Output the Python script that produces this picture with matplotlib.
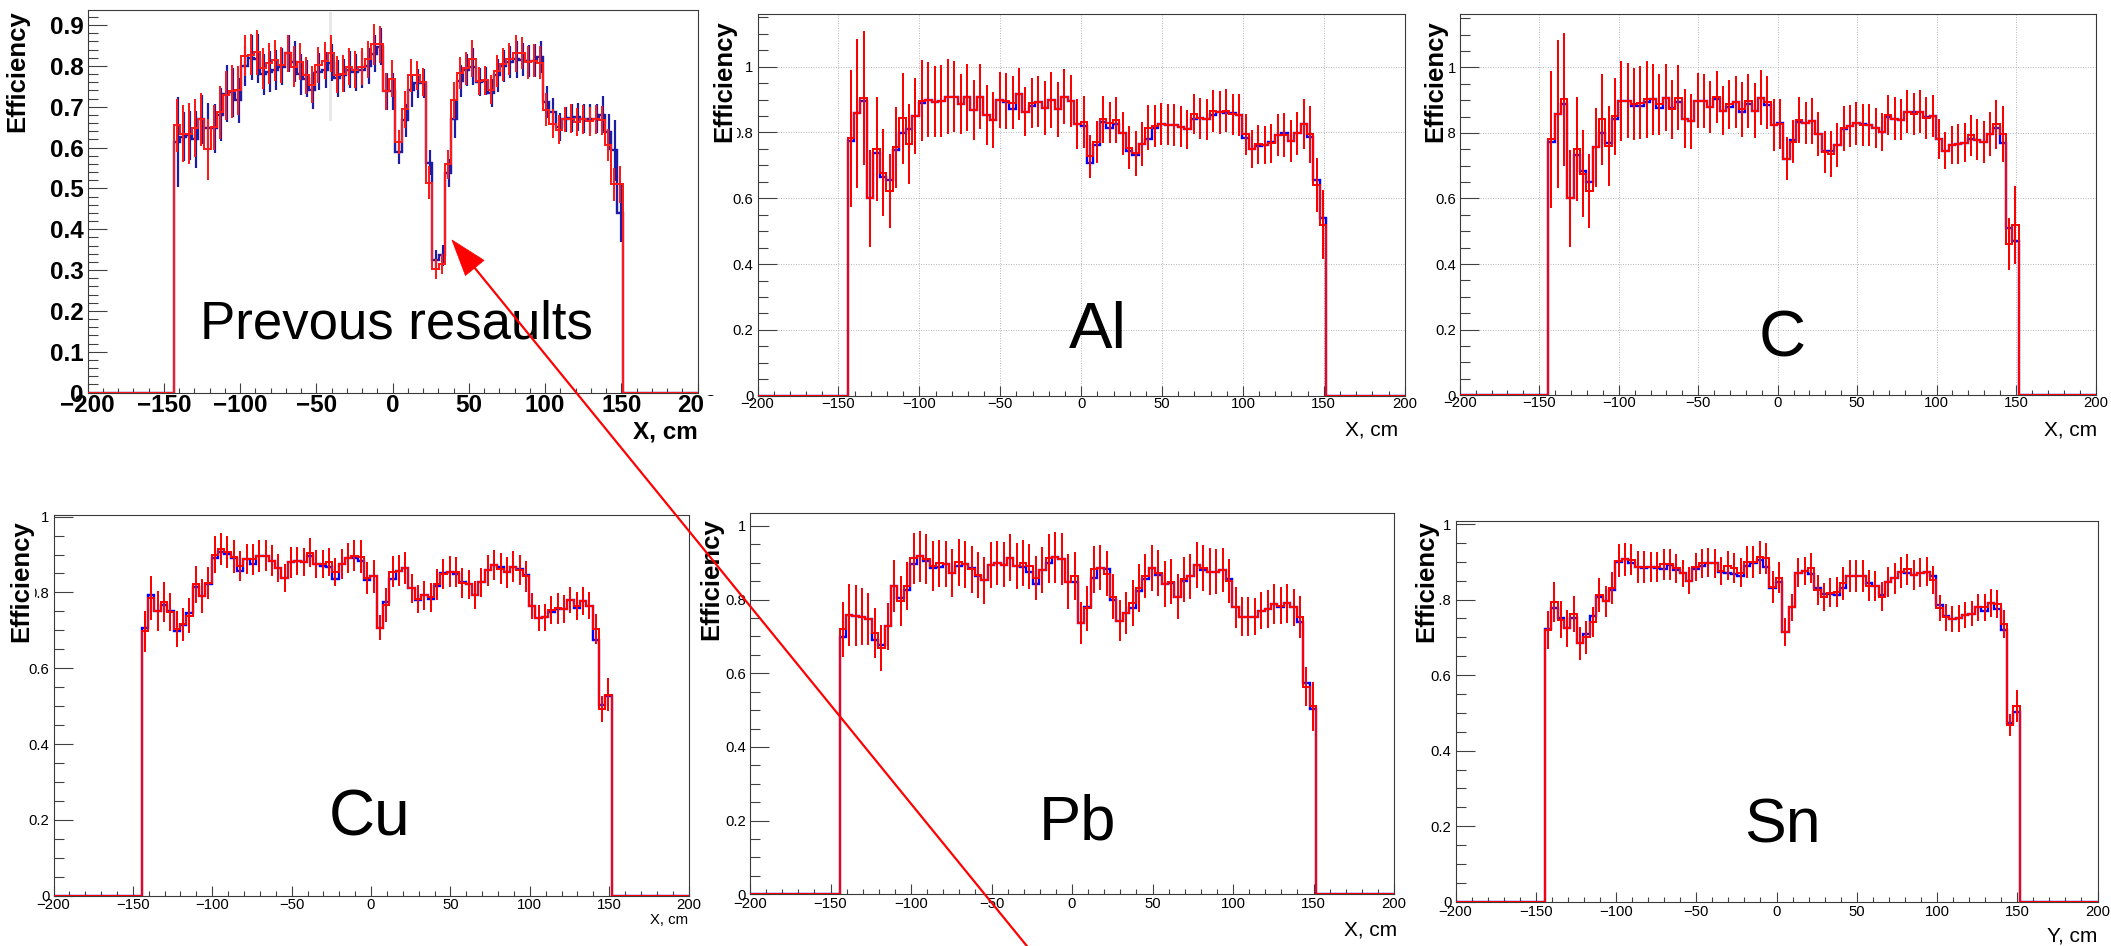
import numpy as np
import matplotlib
matplotlib.use('Agg')
import matplotlib.pyplot as plt
from matplotlib.ticker import MultipleLocator, FuncFormatter
from matplotlib.patches import Polygon, Rectangle
from matplotlib.lines import Line2D

# ---------------- data (efficiency per bin) ----------------
bin_width = 4.0
first_edge = -144.4
prev_bin_width = 4.04
prev_first_edge = -143.5

red_prev = [0.655,0.634,0.634,0.648,0.669,0.596,0.650,0.687,0.728,0.738,0.740,0.825,0.828,0.833,0.794,0.806,0.814,0.802,0.831,0.798,
            0.810,0.777,0.754,0.802,0.813,0.831,0.779,0.781,0.798,0.791,0.798,0.816,0.853,0.853,0.738,0.769,0.614,0.694,0.777,0.777,
            0.761,0.514,0.303,0.315,0.559,0.716,0.783,0.794,0.818,0.763,0.765,0.742,0.788,0.804,0.817,0.831,0.832,0.809,0.813,0.808,
            0.693,0.659,0.644,0.669,0.671,0.663,0.669,0.664,0.669,0.667,0.606,0.510,0.510]
blue_prev = [0.614,0.626,0.630,0.620,0.669,0.649,0.648,0.680,0.732,0.736,0.716,0.800,0.820,0.817,0.780,0.786,0.790,0.798,0.831,0.810,
             0.780,0.769,0.740,0.786,0.790,0.808,0.770,0.777,0.791,0.784,0.791,0.800,0.830,0.847,0.738,0.738,0.589,0.667,0.740,0.757,
             0.757,0.563,0.325,0.336,0.538,0.669,0.763,0.790,0.798,0.761,0.763,0.734,0.777,0.800,0.810,0.816,0.815,0.812,0.813,0.822,
             0.712,0.687,0.650,0.669,0.673,0.675,0.671,0.671,0.671,0.681,0.638,0.593,0.440]
err_red_prev = [0.065,0.070,0.075,0.070,0.065,0.075,0.055,0.065,0.060,0.065,0.060,0.050,0.050,0.055,0.050,0.050,0.050,0.045,0.045,0.050,
                0.045,0.045,0.045,0.045,0.045,0.045,0.045,0.045,0.045,0.045,0.045,0.045,0.050,0.045,0.045,0.045,0.030,0.045,0.040,0.035,
                0.035,0.040,0.025,0.025,0.035,0.045,0.040,0.040,0.045,0.035,0.035,0.035,0.040,0.040,0.040,0.045,0.040,0.040,0.040,0.040,
                0.040,0.035,0.035,0.030,0.035,0.035,0.035,0.035,0.035,0.035,0.040,0.040,0.045]
err_blue_prev = [0.110,0.060,0.060,0.070,0.060,0.060,0.060,0.065,0.070,0.060,0.055,0.050,0.055,0.060,0.050,0.050,0.050,0.045,0.045,0.050,
                 0.050,0.045,0.045,0.045,0.045,0.045,0.045,0.040,0.045,0.045,0.045,0.045,0.045,0.045,0.045,0.045,0.030,0.040,0.040,0.035,
                 0.035,0.030,0.025,0.025,0.035,0.045,0.040,0.040,0.045,0.035,0.035,0.035,0.040,0.040,0.040,0.045,0.040,0.040,0.040,0.040,
                 0.040,0.035,0.035,0.030,0.035,0.035,0.035,0.035,0.035,0.045,0.045,0.075,0.070]

red_al = [0.782,0.858,0.904,0.600,0.750,0.678,0.623,0.755,0.843,0.765,0.851,0.896,0.899,0.894,0.896,0.909,0.909,0.886,0.907,0.868,
          0.909,0.853,0.838,0.899,0.896,0.890,0.917,0.863,0.889,0.894,0.873,0.899,0.870,0.909,0.896,0.826,0.833,0.727,0.770,0.840,
          0.830,0.838,0.797,0.754,0.737,0.765,0.815,0.820,0.826,0.823,0.823,0.818,0.810,0.856,0.843,0.840,0.866,0.861,0.866,0.855,
          0.853,0.794,0.750,0.764,0.762,0.767,0.792,0.792,0.774,0.797,0.825,0.794,0.640,0.519]
blue_al = [0.775,0.858,0.896,0.600,0.737,0.665,0.657,0.747,0.797,0.810,0.851,0.889,0.899,0.894,0.896,0.909,0.909,0.886,0.907,0.868,
           0.909,0.853,0.838,0.899,0.892,0.870,0.917,0.863,0.879,0.894,0.873,0.899,0.870,0.909,0.896,0.826,0.820,0.708,0.762,0.833,
           0.813,0.825,0.797,0.744,0.732,0.765,0.779,0.813,0.826,0.823,0.823,0.818,0.810,0.840,0.843,0.840,0.853,0.861,0.858,0.858,
           0.853,0.782,0.750,0.760,0.762,0.772,0.792,0.797,0.774,0.797,0.825,0.787,0.656,0.539]
err_al = [0.208,0.226,0.204,0.148,0.159,0.132,0.113,0.123,0.139,0.122,0.116,0.123,0.114,0.108,0.109,0.115,0.107,0.091,0.102,0.090,
          0.099,0.091,0.086,0.084,0.084,0.081,0.078,0.075,0.075,0.077,0.082,0.084,0.083,0.083,0.079,0.077,0.079,0.066,0.064,0.071,
          0.063,0.069,0.066,0.065,0.068,0.067,0.068,0.063,0.064,0.062,0.063,0.062,0.059,0.062,0.062,0.062,0.064,0.065,0.066,0.062,
          0.063,0.063,0.057,0.059,0.057,0.059,0.063,0.068,0.063,0.065,0.076,0.086,0.081,0.105]

red_c = [0.781,0.858,0.903,0.600,0.751,0.676,0.624,0.756,0.842,0.761,0.851,0.897,0.898,0.888,0.892,0.903,0.903,0.887,0.908,0.872,
         0.908,0.844,0.835,0.898,0.897,0.880,0.910,0.868,0.888,0.895,0.873,0.897,0.868,0.908,0.893,0.824,0.827,0.722,0.773,0.839,
         0.829,0.836,0.797,0.743,0.736,0.763,0.814,0.822,0.829,0.824,0.824,0.814,0.802,0.855,0.844,0.841,0.865,0.857,0.865,0.846,
         0.851,0.781,0.746,0.763,0.766,0.770,0.793,0.780,0.773,0.797,0.826,0.796,0.461,0.519]
blue_c = [0.771,0.858,0.887,0.600,0.734,0.685,0.651,0.756,0.800,0.770,0.844,0.897,0.898,0.883,0.883,0.893,0.903,0.875,0.908,0.877,
          0.893,0.844,0.835,0.898,0.897,0.880,0.903,0.868,0.880,0.895,0.863,0.888,0.868,0.908,0.885,0.824,0.829,0.722,0.778,0.832,
          0.829,0.836,0.797,0.745,0.745,0.763,0.812,0.822,0.829,0.827,0.824,0.816,0.802,0.850,0.844,0.841,0.865,0.865,0.865,0.849,
          0.851,0.781,0.746,0.763,0.766,0.770,0.783,0.780,0.773,0.797,0.816,0.768,0.509,0.470]
err_c = [0.209,0.226,0.203,0.148,0.159,0.132,0.113,0.121,0.139,0.122,0.117,0.123,0.114,0.109,0.111,0.117,0.108,0.093,0.101,0.089,
         0.099,0.090,0.085,0.084,0.082,0.080,0.079,0.074,0.075,0.080,0.084,0.083,0.083,0.083,0.082,0.080,0.077,0.065,0.066,0.071,
         0.064,0.070,0.067,0.064,0.069,0.066,0.069,0.064,0.065,0.065,0.065,0.061,0.058,0.062,0.066,0.064,0.065,0.064,0.065,0.064,
         0.064,0.061,0.057,0.059,0.060,0.060,0.063,0.064,0.064,0.067,0.076,0.086,0.079,0.120]

red_cu = [0.697,0.785,0.751,0.774,0.748,0.704,0.716,0.739,0.821,0.791,0.824,0.899,0.915,0.906,0.894,0.870,0.888,0.887,0.897,0.897,
          0.883,0.864,0.839,0.879,0.883,0.880,0.905,0.875,0.874,0.880,0.853,0.875,0.890,0.897,0.894,0.839,0.842,0.707,0.767,0.855,
          0.857,0.864,0.811,0.783,0.792,0.787,0.821,0.849,0.855,0.853,0.824,0.821,0.792,0.827,0.858,0.872,0.862,0.853,0.868,0.860,
          0.842,0.765,0.732,0.734,0.754,0.758,0.756,0.780,0.764,0.778,0.765,0.704,0.492,0.530]
blue_cu = [0.705,0.793,0.751,0.767,0.752,0.699,0.714,0.745,0.815,0.791,0.821,0.890,0.906,0.901,0.890,0.857,0.888,0.875,0.897,0.897,
           0.883,0.864,0.839,0.879,0.883,0.880,0.895,0.875,0.870,0.868,0.835,0.875,0.890,0.890,0.883,0.833,0.842,0.707,0.774,0.835,
           0.857,0.864,0.811,0.780,0.792,0.782,0.817,0.852,0.853,0.849,0.827,0.821,0.792,0.827,0.858,0.872,0.866,0.853,0.868,0.862,
           0.846,0.765,0.732,0.734,0.748,0.757,0.756,0.780,0.758,0.778,0.765,0.675,0.503,0.526]
err_cu = [0.055,0.057,0.054,0.053,0.051,0.047,0.043,0.045,0.050,0.044,0.042,0.049,0.043,0.042,0.044,0.040,0.040,0.042,0.042,0.040,
          0.041,0.037,0.037,0.040,0.038,0.036,0.038,0.037,0.037,0.038,0.037,0.040,0.040,0.041,0.043,0.042,0.044,0.033,0.044,0.040,
          0.041,0.042,0.038,0.037,0.038,0.038,0.041,0.040,0.040,0.040,0.040,0.038,0.037,0.038,0.040,0.040,0.041,0.041,0.040,0.040,
          0.040,0.034,0.035,0.035,0.036,0.040,0.037,0.034,0.037,0.037,0.036,0.040,0.035,0.043]

red_pb = [0.719,0.758,0.756,0.754,0.747,0.709,0.668,0.727,0.837,0.797,0.837,0.912,0.917,0.910,0.892,0.899,0.897,0.873,0.901,0.896,
          0.882,0.867,0.852,0.894,0.899,0.894,0.914,0.891,0.900,0.890,0.858,0.881,0.912,0.915,0.910,0.849,0.864,0.736,0.776,0.882,
          0.887,0.870,0.808,0.743,0.763,0.790,0.831,0.864,0.885,0.872,0.842,0.849,0.808,0.855,0.863,0.894,0.885,0.876,0.876,0.881,
          0.851,0.779,0.754,0.754,0.754,0.770,0.774,0.788,0.783,0.790,0.779,0.752,0.564,0.510]
blue_pb = [0.698,0.758,0.756,0.754,0.747,0.689,0.677,0.727,0.837,0.803,0.826,0.896,0.917,0.905,0.887,0.888,0.897,0.873,0.892,0.896,
           0.885,0.864,0.852,0.894,0.899,0.894,0.914,0.891,0.889,0.876,0.842,0.881,0.898,0.915,0.910,0.849,0.849,0.736,0.779,0.858,
           0.887,0.882,0.799,0.743,0.763,0.776,0.822,0.855,0.885,0.867,0.842,0.844,0.808,0.851,0.863,0.894,0.879,0.876,0.876,0.881,
           0.855,0.779,0.754,0.754,0.754,0.770,0.774,0.788,0.779,0.790,0.779,0.740,0.573,0.503]
err_pb = [0.075,0.084,0.083,0.078,0.070,0.067,0.062,0.063,0.070,0.068,0.066,0.069,0.068,0.067,0.068,0.064,0.063,0.065,0.063,0.064,
          0.063,0.063,0.063,0.063,0.060,0.061,0.063,0.062,0.062,0.062,0.060,0.063,0.067,0.069,0.070,0.075,0.065,0.057,0.061,0.064,
          0.061,0.061,0.061,0.055,0.057,0.063,0.066,0.061,0.063,0.063,0.062,0.062,0.062,0.061,0.062,0.062,0.063,0.063,0.060,0.060,
          0.059,0.056,0.052,0.052,0.051,0.051,0.052,0.053,0.050,0.053,0.051,0.057,0.054,0.066]

red_sn = [0.719,0.794,0.746,0.724,0.762,0.684,0.700,0.741,0.812,0.796,0.830,0.903,0.907,0.906,0.887,0.887,0.887,0.887,0.894,0.894,
          0.883,0.869,0.850,0.887,0.896,0.898,0.896,0.876,0.890,0.884,0.871,0.900,0.900,0.912,0.909,0.834,0.858,0.715,0.779,0.871,
          0.876,0.883,0.825,0.808,0.818,0.819,0.843,0.862,0.862,0.863,0.837,0.836,0.808,0.847,0.856,0.872,0.880,0.865,0.871,0.874,
          0.852,0.777,0.753,0.748,0.750,0.759,0.763,0.779,0.779,0.790,0.788,0.735,0.468,0.519]
blue_sn = [0.722,0.777,0.750,0.724,0.750,0.684,0.709,0.756,0.808,0.796,0.824,0.899,0.907,0.896,0.887,0.883,0.887,0.883,0.881,0.891,
           0.877,0.869,0.850,0.880,0.889,0.898,0.896,0.874,0.871,0.868,0.862,0.889,0.896,0.906,0.886,0.830,0.846,0.715,0.779,0.869,
           0.876,0.868,0.831,0.816,0.814,0.812,0.830,0.862,0.862,0.863,0.845,0.836,0.812,0.847,0.856,0.872,0.869,0.865,0.871,0.874,
           0.862,0.786,0.756,0.748,0.750,0.760,0.763,0.779,0.770,0.790,0.774,0.720,0.474,0.501]
err_sn = [0.050,0.053,0.049,0.049,0.048,0.043,0.043,0.040,0.045,0.041,0.043,0.044,0.044,0.041,0.042,0.042,0.040,0.040,0.041,0.041,
          0.038,0.037,0.036,0.037,0.038,0.038,0.038,0.037,0.038,0.039,0.038,0.043,0.042,0.044,0.042,0.042,0.041,0.037,0.035,0.038,
          0.038,0.039,0.040,0.037,0.039,0.040,0.043,0.043,0.042,0.043,0.040,0.040,0.039,0.039,0.041,0.041,0.041,0.041,0.038,0.039,
          0.038,0.035,0.035,0.034,0.035,0.035,0.034,0.035,0.035,0.037,0.038,0.038,0.029,0.042]

x_ticks = [-200, -150, -100, -50, 0, 50, 100, 150, 200]

# ---------------- figure ----------------
W, H, DPI = 2111, 946, 100
plt.rcParams['font.family'] = ['Liberation Sans', 'DejaVu Sans']
plt.rcParams['axes.unicode_minus'] = True
fig = plt.figure(figsize=(W / DPI, H / DPI), dpi=DPI)


def pt(px):
    return px * 72.0 / DPI


def fx(x):
    return x / W


def fy(y):
    return 1 - y / H


def px_axes(l, t, r, b, z=0):
    ax = fig.add_axes([l / W, 1 - b / H, (r - l) / W, (b - t) / H])
    ax.set_zorder(z)
    return ax


fmt = FuncFormatter(lambda v, p: ('%g' % round(v, 4)).replace('-', '\u2212'))


def style_axes(ax, ymax, ymaj, ymin, fs, bold, pad_x, pad_y, grid=False):
    ax.set_xlim(-200, 200)
    ax.set_ylim(0, ymax)
    ax.set_xticks(x_ticks)
    ax.xaxis.set_minor_locator(MultipleLocator(10))
    ax.yaxis.set_major_locator(MultipleLocator(ymaj))
    ax.yaxis.set_minor_locator(MultipleLocator(ymin))
    ax.xaxis.set_major_formatter(fmt)
    ax.yaxis.set_major_formatter(fmt)
    ax.tick_params(which='both', direction='in', color='#404040', width=pt(1.1),
                   top=False, right=False)
    ax.tick_params(axis='y', which='major', length=pt(19), pad=pad_y)
    ax.tick_params(axis='y', which='minor', length=pt(10))
    ax.tick_params(axis='x', which='major', length=pt(10), pad=pad_x)
    ax.tick_params(axis='x', which='minor', length=pt(5))
    for lab in ax.get_xticklabels() + ax.get_yticklabels():
        lab.set_fontsize(fs)
        lab.set_fontweight('bold' if bold else 'normal')
    for s in ax.spines.values():
        s.set_linewidth(pt(1.1))
        s.set_color('#3a3a3a')
    if grid:
        ax.grid(True, which='major', linestyle=(0, (1, 1.5)), color='#b8b8b8', linewidth=pt(1.0))
        ax.set_axisbelow(True)


def draw_hist(ax, red, blue, err, err_b=None, red_col='#ff0000', blue_col='#0000ff',
              first=first_edge, width=bin_width):
    n = len(red)
    edges = first + width * np.arange(n + 1)
    centers = edges[:-1] + width / 2
    ext_edges = np.concatenate([[-200.0], edges, [200.0]])
    blue_ext = np.concatenate([[0.0], blue, [0.0]])
    red_ext = np.concatenate([[0.0], red, [0.0]])
    red = np.asarray(red)
    blue = np.asarray(blue)
    err = np.asarray(err)
    ax.stairs(blue_ext, ext_edges, baseline=None, color=blue_col, linewidth=pt(2.4), zorder=3)
    if err_b is not None:
        eb = np.asarray(err_b)
        ax.vlines(centers + 0.6, blue - eb, blue + eb, color=blue_col, linewidth=pt(2.2), zorder=3)
    ax.vlines(centers, red - err, red + err, color=red_col, linewidth=pt(2.0), zorder=4)
    ax.stairs(red_ext, ext_edges, baseline=None, color=red_col, linewidth=pt(2.0), zorder=5)


def eff_label(xc, top, box=True):
    kw = dict(rotation=90, ha='center', va='top', fontsize=18.5, fontweight='bold', zorder=3)
    if box:
        kw['bbox'] = dict(facecolor='white', edgecolor='none', pad=1.0)
    fig.text(fx(xc), fy(top), 'Efficiency', **kw)


# ---- Panel A : previous results ----
axA = px_axes(87.5, 10, 697.5, 392.6, z=0)
draw_hist(axA, red_prev, blue_prev, err_red_prev, err_blue_prev, red_col='#ff1a1a',
          blue_col='#1c1ca6', first=prev_first_edge, width=prev_bin_width)
axA.plot([-41, -41], [0.67, 0.93], color='#e8e8e8', linewidth=pt(3), zorder=1)
style_axes(axA, 0.937, 0.1, 0.02, 17.5, True, pt(1.5), pt(4))
eff_label(17, 10, box=False)
fig.text(fx(698), fy(432), 'X, cm', ha='right', va='center', fontsize=17.5, fontweight='bold')
fig.text(fx(396), fy(338.5), 'Prevous resaults', ha='center', va='baseline', fontsize=38)

# crop of the first picture
fig.add_artist(Rectangle((fx(705), fy(425)), fx(740) - fx(705), fy(396) - fy(425),
                         transform=fig.transFigure, facecolor='white', edgecolor='none', zorder=0.5))

# ---- Panel B : Al ----
axB = px_axes(757.6, 14, 1404.7, 395.7, z=1)
draw_hist(axB, red_al, blue_al, err_al)
style_axes(axB, 1.160, 0.2, 0.05, 10.7, False, pt(1.2), pt(4), grid=True)
eff_label(724, 20)
fig.text(fx(1398), fy(430), 'X, cm', ha='right', va='center', fontsize=15)
fig.text(fx(1098), fy(348), 'Al', ha='center', va='baseline', fontsize=47)

# ---- Panel C : C ----
axC = px_axes(1459.8, 14, 2095.5, 395.1, z=1)
draw_hist(axC, red_c, blue_c, err_c)
style_axes(axC, 1.163, 0.2, 0.05, 10.7, False, pt(1.2), pt(4), grid=True)
eff_label(1435, 20)
fig.text(fx(2097), fy(430), 'X, cm', ha='right', va='center', fontsize=15)
fig.text(fx(1782), fy(356), 'C', ha='center', va='baseline', fontsize=47)

# ---- Panel D : Cu ----
axD = px_axes(53.5, 514.7, 688.5, 895.7, z=1)
draw_hist(axD, red_cu, blue_cu, err_cu)
style_axes(axD, 1.005, 0.2, 0.05, 10.7, False, pt(2), pt(4))
eff_label(21.5, 520)
fig.text(fx(688), fy(920), 'X, cm', ha='right', va='center', fontsize=10.7)
fig.text(fx(370), fy(835), 'Cu', ha='center', va='baseline', fontsize=46)

# ---- Panel E : Pb ----
axE = px_axes(750, 513, 1394, 894.3, z=1)
draw_hist(axE, red_pb, blue_pb, err_pb)
style_axes(axE, 1.035, 0.2, 0.05, 10.7, False, pt(2.5), pt(4))
eff_label(711, 518)
fig.text(fx(1397), fy(929.5), 'X, cm', ha='right', va='center', fontsize=15)
fig.text(fx(1077), fy(840), 'Pb', ha='center', va='baseline', fontsize=45.5)

# ---- Panel F : Sn ----
axF = px_axes(1455.5, 521, 2097.5, 901.7, z=1)
draw_hist(axF, red_sn, blue_sn, err_sn)
style_axes(axF, 1.008, 0.2, 0.05, 10.7, False, pt(2.8), pt(4))
eff_label(1426, 520)
fig.text(fx(2097), fy(936), 'Y, cm', ha='right', va='center', fontsize=15)
fig.text(fx(1782), fy(842), 'Sn', ha='center', va='baseline', fontsize=45)

# ---- red arrow pointing at the dip of the previous results ----
tip = np.array([452.0, 240.0])
tail = np.array([1035.0, 956.0])
d = (tail - tip) / np.linalg.norm(tail - tip)
perp = np.array([d[1], -d[0]])
base = tip + d * 36.0
c1 = base + perp * 12.0
c2 = base - perp * 12.0
fig.add_artist(Line2D([fx(base[0]), fx(tail[0])], [fy(base[1]), fy(tail[1])],
                      transform=fig.transFigure, color='#ff0000', linewidth=pt(2.2), zorder=10))
fig.add_artist(Polygon([[fx(tip[0]), fy(tip[1])], [fx(c1[0]), fy(c1[1])], [fx(c2[0]), fy(c2[1])]],
                       closed=True, transform=fig.transFigure, facecolor='#ff0000',
                       edgecolor='#ff0000', linewidth=0.5, zorder=10))

fig.savefig('out.png', dpi=DPI, facecolor='white')
